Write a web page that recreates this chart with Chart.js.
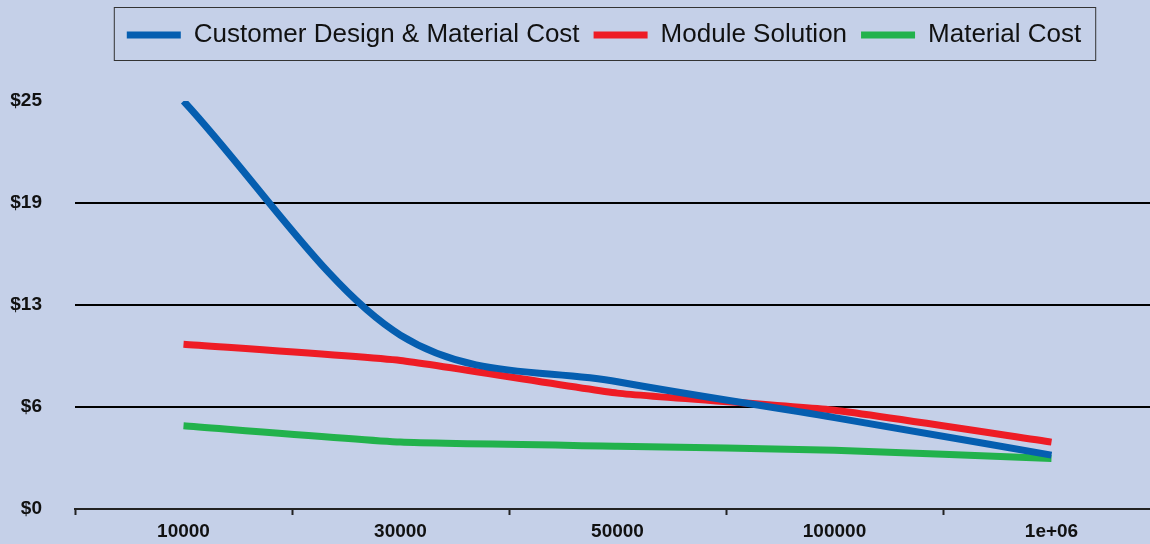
<!DOCTYPE html>
<html>
<head>
<meta charset="utf-8">
<script src="https://cdn.jsdelivr.net/npm/chart.js@4"></script>
<style>
  html, body { margin: 0; padding: 0; background: #c5d0e8; overflow: hidden; }
  canvas { display: block; }
</style>
</head>
<body>
<canvas id="costChart" width="1160" height="544"></canvas>
<script>
// Daten
const volumes = ['10000', '30000', '50000', '100000', '1e+06'];
const customerDesign = [25.0, 10.65, 7.8, 5.6, 3.3];
const moduleSolution = [10.1, 9.1, 7.1, 6.05, 4.1];
const materialCost = [5.1, 4.1, 3.85, 3.6, 3.1];

const FONT = 'Liberation Sans, Arial, Helvetica, sans-serif';
const LEGEND_SHIFT = 24;

// Legende: feste Hoehe und leicht nach rechts versetzt
const legendLayout = {
    id: 'legendLayout',
    afterInit(chart) {
        const legend = chart.legend;
        if (!legend) return;
        const fit = legend.fit;
        legend.fit = function() {
            fit.call(this);
            this.height = 93;
        };
    },
    afterLayout(chart) {
        const legend = chart.legend;
        if (!legend) return;
        legend.left += LEGEND_SHIFT;
        legend.right += LEGEND_SHIFT;
        (legend.legendHitBoxes || []).forEach(h => { h.left += LEGEND_SHIFT; });
    }
};

// Rahmen um die Legende
const legendFrame = {
    id: 'legendFrame',
    afterDraw(chart) {
        const boxes = chart.legend && chart.legend.legendHitBoxes;
        if (!boxes || !boxes.length) return;
        const last = boxes[boxes.length - 1];
        const left = boxes[0].left - 13;
        const right = last.left + last.width + 14;
        const top = boxes[0].top - 15;
        const bottom = boxes[0].top + boxes[0].height + 12;
        const ctx = chart.ctx;
        ctx.save();
        ctx.strokeStyle = '#333';
        ctx.lineWidth = 1;
        ctx.strokeRect(left + 0.5, top + 0.5, right - left, bottom - top);
        ctx.restore();
    }
};

function makeDataset(label, data, color, smooth) {
    const ds = {
        label: label,
        data: data,
        borderColor: color,
        backgroundColor: color,
        borderWidth: 7,
        pointRadius: 0,
        fill: false
    };
    if (smooth) {
        ds.cubicInterpolationMode = 'monotone';
    } else {
        ds.tension = 0.15;
    }
    return ds;
}

new Chart(document.getElementById('costChart'), {
    type: 'line',
    data: {
        labels: volumes,
        datasets: [
            makeDataset('Customer Design & Material Cost', customerDesign, '#055eb0', true),
            makeDataset('Module Solution', moduleSolution, '#ee1c25', false),
            makeDataset('Material Cost', materialCost, '#22b24c', false)
        ]
    },
    options: {
        responsive: false,
        animation: false,
        layout: { padding: { top: 8, left: 0, right: 0, bottom: 0 } },
        plugins: {
            tooltip: { enabled: false },
            legend: {
                position: 'top',
                labels: {
                    color: '#111',
                    font: { family: FONT, size: 26 },
                    boxWidth: 54,
                    boxHeight: 7,
                    padding: 14,
                    generateLabels(chart) {
                        return chart.data.datasets.map((ds, i) => ({
                            text: ds.label,
                            fillStyle: ds.borderColor,
                            strokeStyle: ds.borderColor,
                            lineWidth: 0,
                            fontColor: '#111',
                            datasetIndex: i
                        }));
                    }
                }
            }
        },
        scales: {
            x: {
                offset: true,
                grid: {
                    offset: true,
                    drawOnChartArea: false,
                    drawTicks: true,
                    tickLength: 6,
                    tickColor: '#222',
                    tickWidth: 2
                },
                border: { display: true, color: '#222', width: 2 },
                ticks: {
                    color: '#111',
                    padding: 5,
                    font: { family: FONT, size: 19, weight: 'bold' }
                },
                afterFit(scale) { scale.height = 35; }
            },
            y: {
                min: 0,
                max: 25,
                border: { display: false },
                grid: {
                    drawTicks: true,
                    tickLength: 33,
                    tickColor: 'rgba(0,0,0,0)',
                    lineWidth: 2,
                    color: (c) => (c.tick && (c.tick.value === 25 || c.tick.value === 0)) ? 'rgba(0,0,0,0)' : '#000'
                },
                ticks: {
                    stepSize: 6.25,
                    padding: 0,
                    color: '#111',
                    font: { family: FONT, size: 19, weight: 'bold' },
                    callback: (v) => '$' + Math.round(v)
                },
                afterFit(scale) { scale.width = 75; }
            }
        }
    },
    plugins: [legendLayout, legendFrame]
});
</script>
</body>
</html>
